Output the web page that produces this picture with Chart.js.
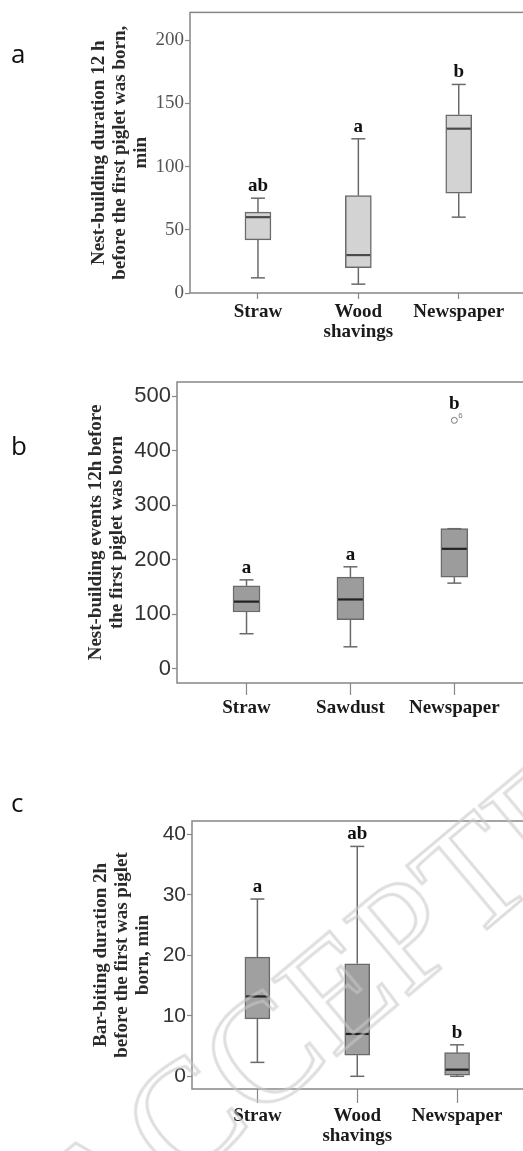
<!DOCTYPE html>
<html>
<head>
<meta charset="utf-8">
<script src="https://cdn.jsdelivr.net/npm/chart.js@4.4.1/dist/chart.umd.min.js"></script>
<style>
  html, body { margin: 0; padding: 0; background: #fff; overflow: hidden; }
  #page { position: relative; width: 523px; height: 1151px; overflow: hidden; }
  #page canvas { position: absolute; left: 0; }
  .panel-tag {
    position: absolute; left: 11px;
    font-family: "Open Sans", "Noto Sans", sans-serif;
    font-size: 26px; line-height: 26px; color: #111;
  }
  .watermark {
    position: absolute; left: 362px; top: 968px;
    transform: translate(-50%, -50%) rotate(-40deg);
    font-family: "Liberation Serif", serif; font-size: 152px; line-height: 1;
    white-space: nowrap; color: transparent;
    -webkit-text-stroke: 3px rgba(200, 200, 200, 0.6);
    pointer-events: none;
  }
</style>
</head>
<body>
<div id="page">
  <canvas id="chart-a" width="530" height="345" style="top:0px"></canvas>
  <canvas id="chart-b" width="530" height="400" style="top:330px"></canvas>
  <canvas id="chart-c" width="530" height="381" style="top:770px"></canvas>
  <div class="panel-tag" style="top:40px">a</div>
  <div class="panel-tag" style="top:432px">b</div>
  <div class="panel-tag" style="top:789px">c</div>
  <div class="watermark">ACCEPTED</div>
</div>

<script>
// panel a: nest-building duration 12 h before first piglet, min
const catsA = ["Straw", ["Wood", "shavings"], "Newspaper"];
const minA = [12, 7, 60];
const q1A = [42, 20, 79];
const medA = [60, 30, 130];
const q3A = [64, 77, 141];
const maxA = [75, 122, 165];
const lettersA = ["ab", "a", "b"];
const ticksA = [0, 50, 100, 150, 200];
const titleA = ["Nest-building duration 12 h", "before the first piglet was born,", "min"];

// panel b: nest-building events 12h before first piglet
const catsB = ["Straw", "Sawdust", "Newspaper"];
const minB = [64, 40, 157];
const q1B = [104, 90, 168];
const medB = [123, 127, 220];
const q3B = [152, 168, 257];
const maxB = [163, 187, 257];
const lettersB = ["a", "a", "b"];
const outlierCatB = [3];
const outlierValB = [456];
const outlierIdB = ["6"];
const ticksB = [0, 100, 200, 300, 400, 500];
const titleB = ["Nest-building events 12h before", "the first piglet was born"];

// panel c: bar-biting duration 2h before first piglet, min
const catsC = ["Straw", ["Wood", "shavings"], "Newspaper"];
const minC = [2.3, 0, 0];
const q1C = [9.5, 3.5, 0.2];
const medC = [13.2, 7, 1.1];
const q3C = [19.7, 18.6, 3.9];
const maxC = [29.3, 38, 5.2];
const lettersC = ["a", "ab", "b"];
const ticksC = [0, 10, 20, 30, 40];
const titleC = ["Bar-biting duration 2h", "before the first was piglet", "born, min"];

const serif = "'Liberation Serif', 'Times New Roman', serif";
const sans = "'Liberation Sans', Arial, sans-serif";
const axisGray = "#878787";

// draws frame, whiskers, medians, outlier ids and significance letters
const makeBoxPlugin = (cfg) => ({
  id: "boxWhiskers",
  beforeDatasetsDraw(chart) {
    const { ctx, chartArea } = chart;
    ctx.save();
    ctx.strokeStyle = axisGray;
    ctx.lineWidth = 1.5;
    ctx.strokeRect(chartArea.left, chartArea.top, chartArea.right - chartArea.left, chartArea.bottom - chartArea.top);
    ctx.restore();
  },
  afterDatasetsDraw(chart) {
    const { ctx } = chart;
    const x = chart.scales.x;
    const y = chart.scales.y;
    const seg = (x1, y1, x2, y2) => {
      ctx.beginPath();
      ctx.moveTo(x1, y1);
      ctx.lineTo(x2, y2);
      ctx.stroke();
    };
    ctx.save();
    cfg.med.forEach((m, i) => {
      const cx = x.getPixelForValue(i + 1);
      const half = cfg.boxWidth / 2;
      const cap = 7;
      const yMin = y.getPixelForValue(cfg.min[i]);
      const yMax = y.getPixelForValue(cfg.max[i]);
      const yQ1 = y.getPixelForValue(cfg.q1[i]);
      const yQ3 = y.getPixelForValue(cfg.q3[i]);
      ctx.strokeStyle = "#6a6a6a";
      ctx.lineWidth = 1.5;
      if (yMax < yQ3 - 1) seg(cx, yQ3, cx, yMax);
      seg(cx - cap, yMax, cx + cap, yMax);
      if (yMin > yQ1 + 1) seg(cx, yQ1, cx, yMin);
      seg(cx - cap, yMin, cx + cap, yMin);
      // median
      ctx.strokeStyle = cfg.medianColor;
      ctx.lineWidth = 2.2;
      const ym = y.getPixelForValue(m);
      seg(cx - half + 1, ym, cx + half - 1, ym);

      // letter above the highest mark
      let top = yMax;
      (cfg.outCat || []).forEach((c, k) => {
        if (c === i + 1) top = Math.min(top, y.getPixelForValue(cfg.outVal[k]) - 4);
      });
      ctx.fillStyle = "#111";
      ctx.font = "bold 19px " + serif;
      ctx.textAlign = "center";
      ctx.textBaseline = "alphabetic";
      ctx.fillText(cfg.letters[i], cx, top - 7);
    });
    // outlier case numbers
    (cfg.outCat || []).forEach((c, k) => {
      const px = x.getPixelForValue(c);
      const py = y.getPixelForValue(cfg.outVal[k]);
      ctx.fillStyle = "#777";
      ctx.font = "8px " + sans;
      ctx.textAlign = "left";
      ctx.textBaseline = "alphabetic";
      ctx.fillText(cfg.outId[k], px + 4, py - 2);
    });
    ctx.restore();
  },
});

const createBoxChart = (canvasId, cfg) => {
  const datasets = [
    {
      type: "bar",
      data: cfg.cats.map((c, i) => ({ x: i + 1, y: [cfg.q1[i], cfg.q3[i]] })),
      backgroundColor: cfg.fill,
      borderColor: "#6a6a6a",
      borderWidth: 1.5,
      borderSkipped: false,
      barThickness: cfg.boxWidth,
    },
  ];
  if (cfg.outCat) {
    datasets.push({
      type: "scatter",
      data: cfg.outCat.map((c, k) => ({ x: c, y: cfg.outVal[k] })),
      pointRadius: 3,
      pointBackgroundColor: "#fff",
      pointBorderColor: "#777",
      pointBorderWidth: 1,
    });
  }
  return new Chart(document.getElementById(canvasId), {
    type: "bar",
    data: { datasets },
    options: {
      responsive: false,
      animation: false,
      devicePixelRatio: 1,
      layout: { padding: { left: cfg.padLeft, top: cfg.padTop, right: cfg.padRight, bottom: 0 } },
      plugins: { legend: { display: false }, tooltip: { enabled: false } },
      scales: {
        x: {
          type: "linear",
          min: cfg.xMin,
          max: 3.68,
          offset: false,
          afterBuildTicks: (s) => { s.ticks = cfg.cats.map((c, i) => ({ value: i + 1 })); },
          afterFit: (s) => { s.height = cfg.xAxisHeight; },
          ticks: {
            callback: (v, i) => cfg.cats[i],
            autoSkip: false,
            maxRotation: 0,
            padding: 3,
            color: "#1a1a1a",
            font: { family: serif, size: 19, weight: "bold", lineHeight: 1.05 },
          },
          grid: { drawOnChartArea: false, offset: false, tickLength: cfg.xTickLen, tickColor: axisGray, tickWidth: 1.2 },
          border: { display: false },
        },
        y: {
          min: cfg.yMin,
          max: cfg.yMax,
          afterBuildTicks: (s) => { s.ticks = cfg.ticks.map((v) => ({ value: v })); },
          afterFit: (s) => { s.width = cfg.axisWidth; },
          ticks: { padding: 1, color: cfg.tickColor, font: cfg.tickFont },
          grid: { drawOnChartArea: false, tickLength: 5, tickColor: axisGray, tickWidth: 1.2 },
          border: { display: false },
          title: {
            display: true,
            text: cfg.title,
            color: "#2a2a2a",
            font: { family: serif, size: 19, weight: "bold", lineHeight: 1.1 },
            padding: { top: 2, bottom: 0 },
          },
        },
      },
    },
    plugins: [makeBoxPlugin(cfg)],
  });
};

createBoxChart("chart-a", {
  cats: catsA, min: minA, q1: q1A, med: medA, q3: q3A, max: maxA, letters: lettersA,
  ticks: ticksA, title: titleA, yMin: 0, yMax: 222, xMin: 0.323,
  padLeft: 87, padTop: 9, padRight: 3, axisWidth: 103, xAxisHeight: 52, xTickLen: 6,
  boxWidth: 26, fill: "#d3d3d3", medianColor: "#4a4a4a",
  tickColor: "#555", tickFont: { family: serif, size: 19 },
});

createBoxChart("chart-b", {
  cats: catsB, min: minB, q1: q1B, med: medB, q3: q3B, max: maxB, letters: lettersB,
  outCat: outlierCatB, outVal: outlierValB, outId: outlierIdB,
  ticks: ticksB, title: titleB, yMin: -26.5, yMax: 526.5, xMin: 0.331,
  padLeft: 84, padTop: 52, padRight: 3, axisWidth: 93, xAxisHeight: 47, xTickLen: 12,
  boxWidth: 27, fill: "#9c9c9c", medianColor: "#222",
  tickColor: "#333", tickFont: { family: sans, size: 22 },
});

createBoxChart("chart-c", {
  cats: catsC, min: minC, q1: q1C, med: medC, q3: q3C, max: maxC, letters: lettersC,
  ticks: ticksC, title: titleC, yMin: -2.1, yMax: 42.2, xMin: 0.345,
  padLeft: 89, padTop: 51, padRight: 5, axisWidth: 103, xAxisHeight: 62, xTickLen: 14,
  boxWidth: 25, fill: "#a0a0a0", medianColor: "#222",
  tickColor: "#333", tickFont: { family: sans, size: 21 },
});
</script>
</body>
</html>
